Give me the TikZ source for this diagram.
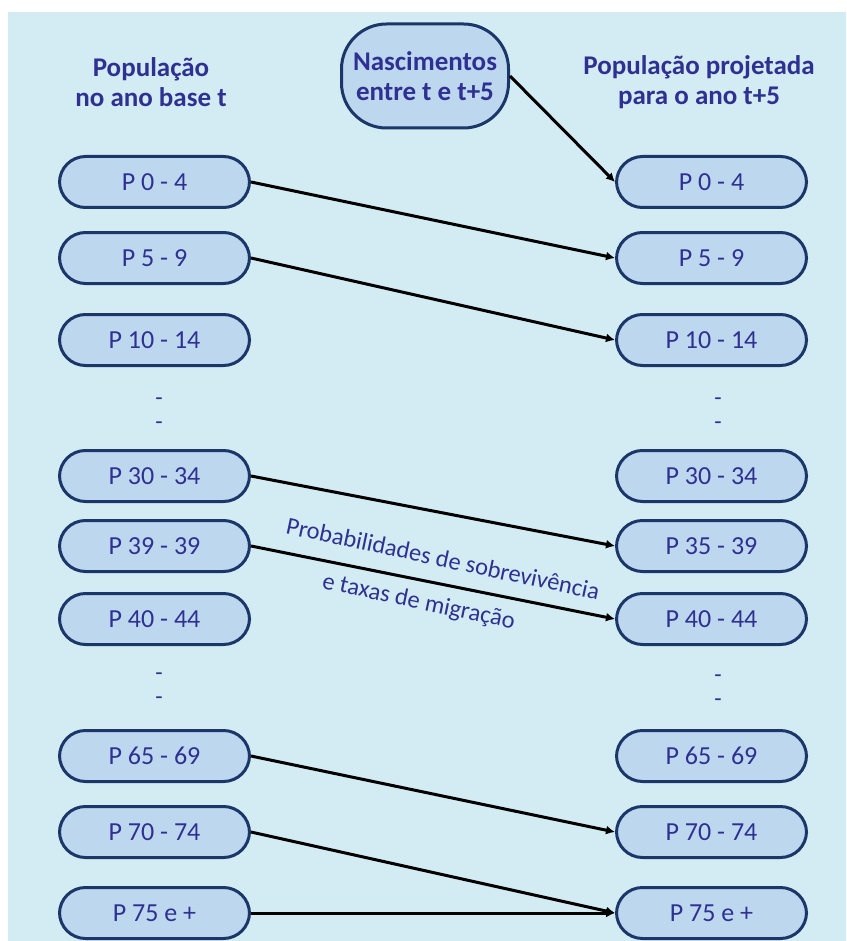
\documentclass[tikz,border=0pt]{standalone}
\usepackage{fontspec}
\setmainfont{Carlito}
\usetikzlibrary{arrows.meta,positioning}
\definecolor{BgBlue}{HTML}{D3EBF2}
\definecolor{BoxBlue}{HTML}{BDD7EE}
\definecolor{BoxLine}{HTML}{1B3668}
\definecolor{TextNavy}{HTML}{2E3192}

\begin{document}
\begin{tikzpicture}[x=1pt, y=-1pt, node distance=364pt,
    every node/.style={font=\fontsize{26}{29}\selectfont, text=TextNavy, align=center},
    popbox/.style={draw=BoxLine, fill=BoxBlue, line width=3pt, rounded corners=26pt, minimum width=190pt, minimum height=51pt, inner sep=0pt},
    nascbox/.style={draw=BoxLine, fill=BoxBlue, line width=3pt, rounded corners=45pt, minimum width=167pt, minimum height=104pt, inner sep=0pt, font=\fontsize{27}{30}\selectfont\bfseries},
    head/.style={font=\fontsize{27}{30}\selectfont\bfseries},
    gapdots/.style={font=\fontsize{24}{24}\selectfont},
    flow/.style={-{Latex[length=9pt,width=9pt]}, line width=3pt}]
    \useasboundingbox (0,0) rectangle (846,941);
    \fill[BgBlue] (8,12) rectangle (846,941);

    % titles
    \node[head] (hbase) at (151,82) {População\\no ano base t};
    \node[head] (hproj) at (699,82) {População projetada\\para o ano t+5};
    \node[nascbox] (nasc) at (425,76) {Nascimentos\\entre t e t+5};

    % base year
    \node[popbox] (l0) at (154.5,182) {P 0 - 4};
    \node[popbox] (l5) at (154.5,258) {P 5 - 9};
    \node[popbox] (l10) at (154.5,340) {P 10 - 14};
    \node[gapdots] (gl1) at (159,414) {-\\-};
    \node[popbox] (l30) at (154.5,476) {P 30 - 34};
    \node[popbox] (l35) at (154.5,546) {P 39 - 39};
    \node[popbox] (l40) at (154.5,619) {P 40 - 44};
    \node[gapdots] (gl2) at (159,689) {-\\-};
    \node[popbox] (l65) at (154.5,756) {P 65 - 69};
    \node[popbox] (l70) at (154.5,832) {P 70 - 74};
    \node[popbox] (l75) at (154.5,913) {P 75 e +};

    % projected year
    \node[popbox, right=of l0] (r0) {P 0 - 4};
    \node[popbox, right=of l5] (r5) {P 5 - 9};
    \node[popbox, right=of l10] (r10) {P 10 - 14};
    \node[gapdots] (gr1) at (718,414) {-\\-};
    \node[popbox, right=of l30] (r30) {P 30 - 34};
    \node[popbox, right=of l35] (r35) {P 35 - 39};
    \node[popbox, right=of l40] (r40) {P 40 - 44};
    \node[gapdots] (gr2) at (718,691) {-\\-};
    \node[popbox, right=of l65] (r65) {P 65 - 69};
    \node[popbox, right=of l70] (r70) {P 70 - 74};
    \node[popbox, right=of l75] (r75) {P 75 e +};

    \node[rotate=-12, font=\fontsize{24.5}{46}\selectfont] (prob) at (438,583) {Probabilidades de sobrevivência\\\hspace*{-30pt}e taxas de migração};

    \draw[flow] (nasc.east) -- (r0.west);
    \draw[flow] (l0.east) -- (r5.west);
    \draw[flow] (l5.east) -- (r10.west);
    \draw[flow] (l30.east) -- (r35.west);
    \draw[flow] (l35.east) -- (r40.west);
    \draw[flow] (l65.east) -- (r70.west);
    \draw[flow] (l70.east) -- (r75.west);
    \draw[flow] (l75.east) -- (r75.west);
\end{tikzpicture}
\end{document}
